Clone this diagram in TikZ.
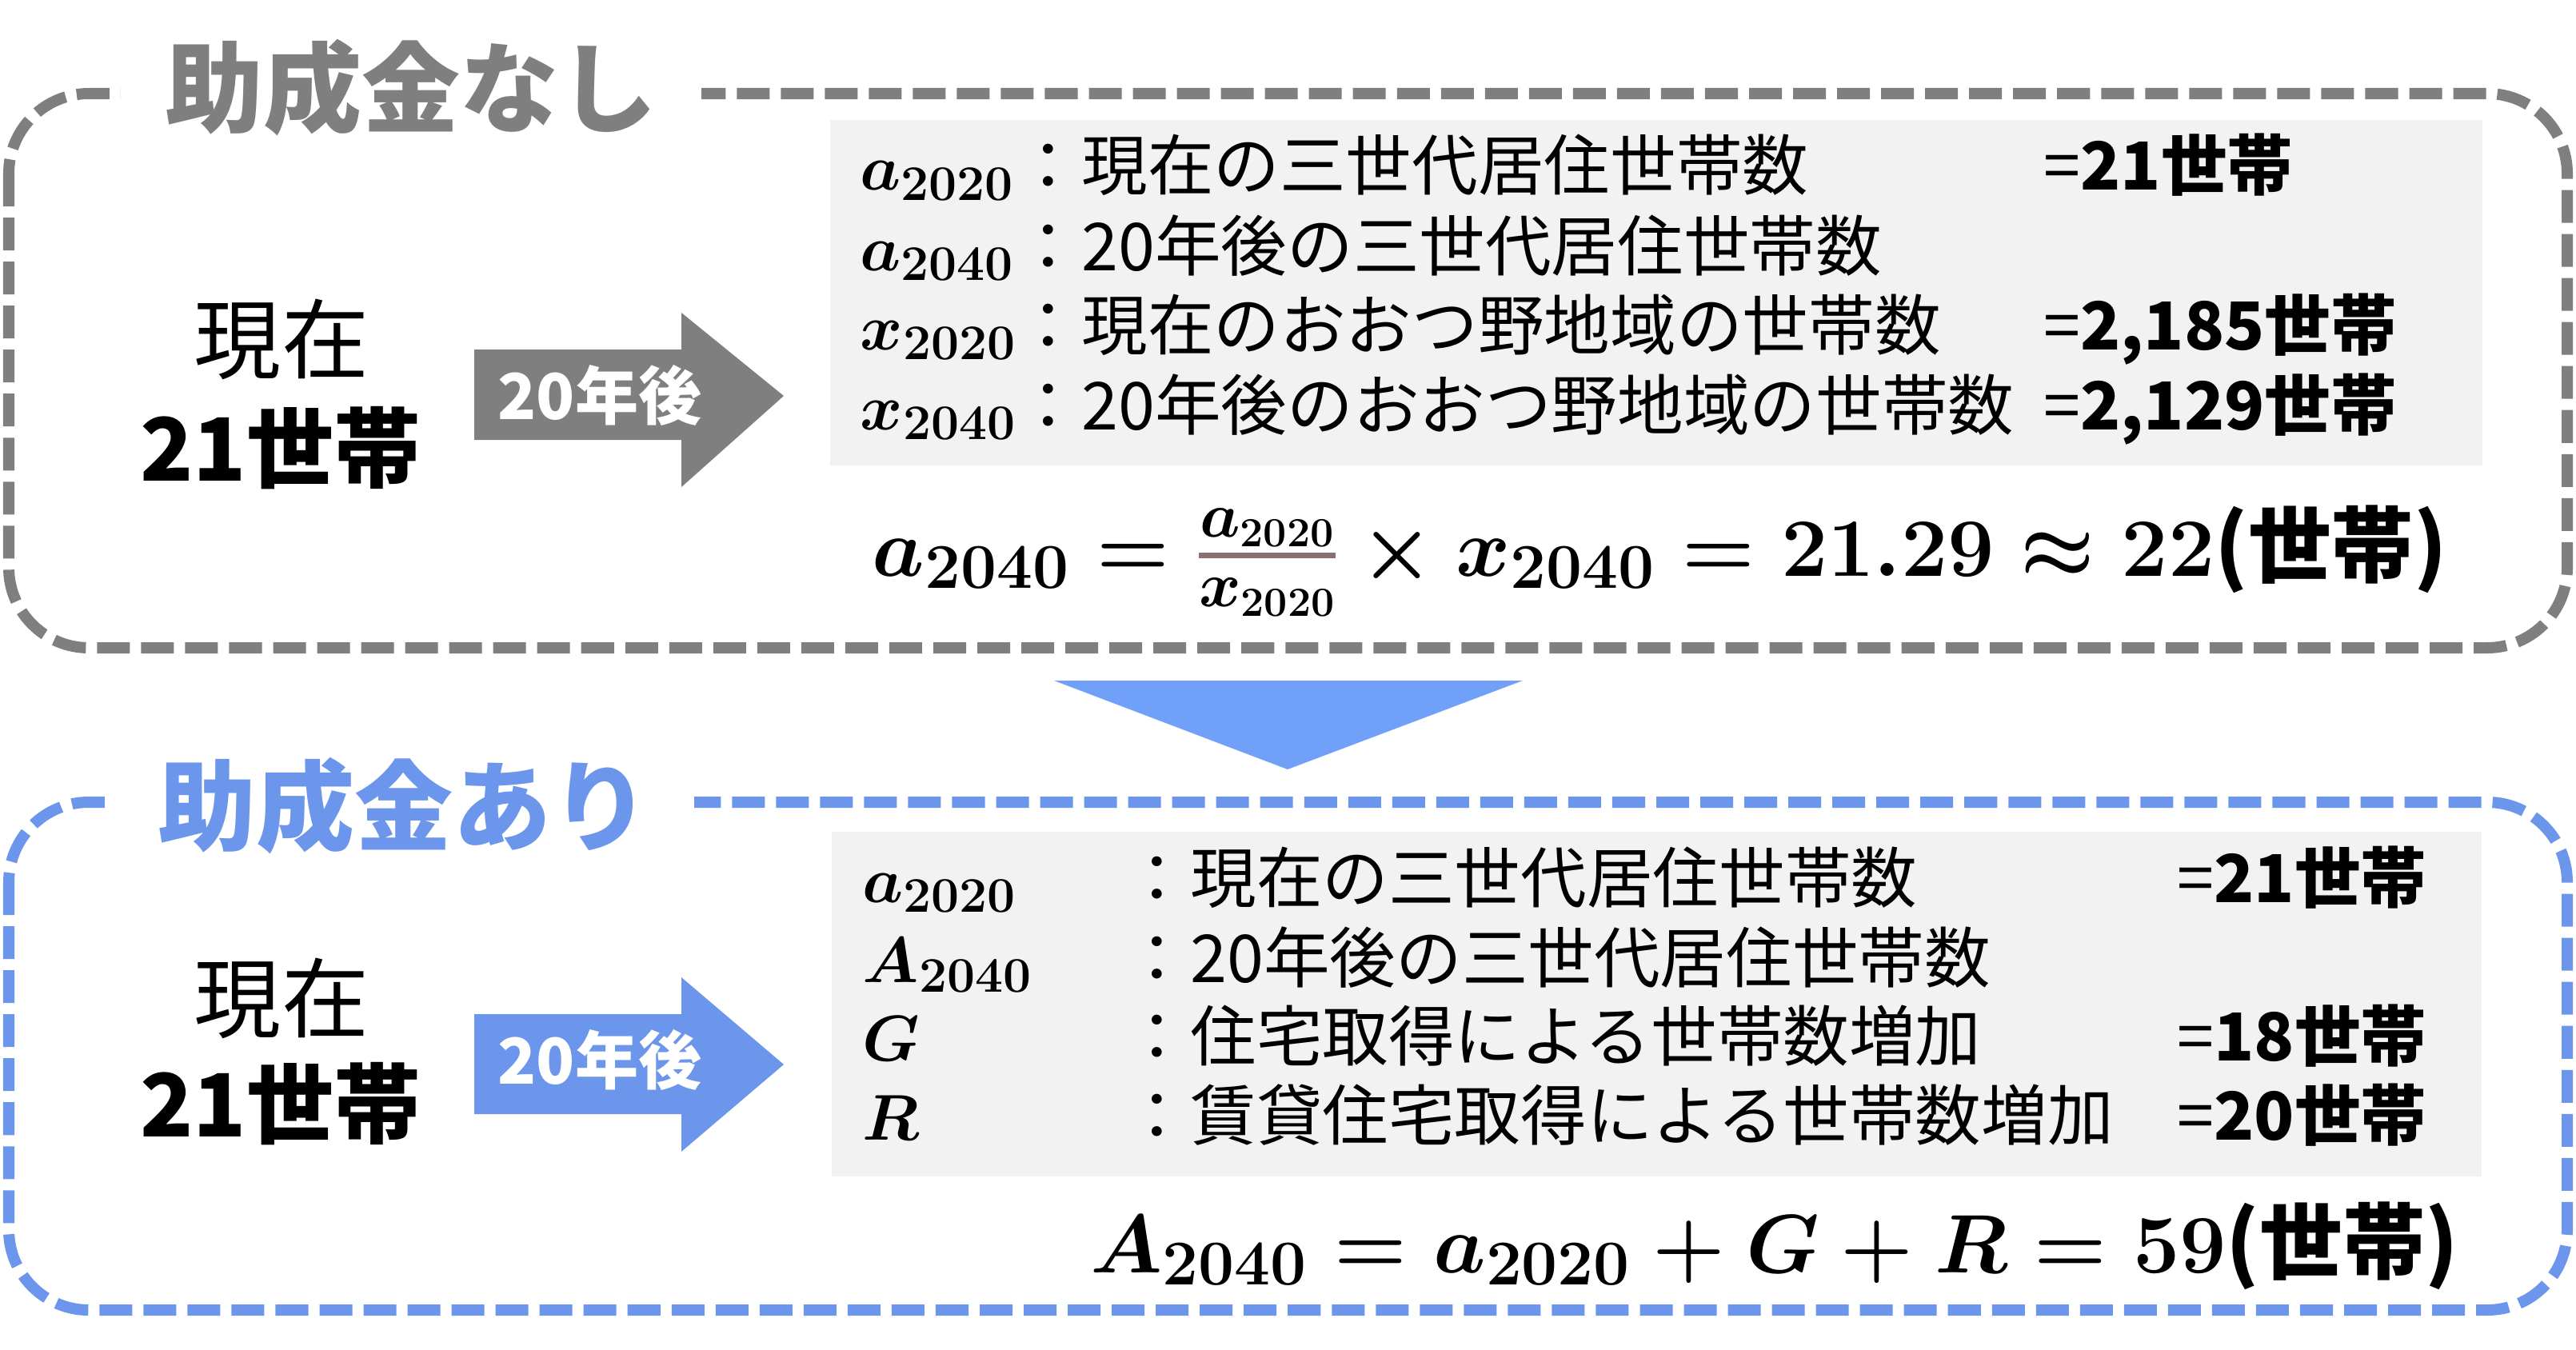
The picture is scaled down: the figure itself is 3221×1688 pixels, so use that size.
\RequirePackage{fix-cm}
\documentclass[tikz,border=0pt]{standalone}
\usepackage{amsmath}
\usepackage{fontspec}
\newfontfamily\jp{Noto Sans CJK JP}
\renewcommand\defaultscriptratio{.77}
\definecolor{lgray}{HTML}{7F7F7F}
\definecolor{lblue}{HTML}{6B96EB}
\definecolor{tblue}{HTML}{70A0F8}
\definecolor{boxgray}{HTML}{F2F2F2}
\definecolor{barcol}{HTML}{8B7070}
\begin{document}
\begin{tikzpicture}[x=0.01cm,y=-0.01cm]
\tikzstyle{every node}=[inner sep=0pt];
\tikzstyle{frame}=[line width=0.14cm, dash pattern=on 0.41cm off 0.14cm, rounded corners=1cm];
\tikzstyle{headline}=[fill=white, inner xsep=0.55cm, inner ysep=0.05cm, font=\jp\bfseries\fontsize{35pt}{42pt}\selectfont];
\tikzstyle{nowtext}=[font=\jp\fontsize{31pt}{37pt}\selectfont];
\tikzstyle{hhtext}=[font=\jp\bfseries\fontsize{31pt}{37pt}\selectfont];
\tikzstyle{latertext}=[text=white, font=\jp\bfseries\fontsize{22.5pt}{27pt}\selectfont];
\tikzstyle{varsym}=[anchor=base west, font=\fontsize{23pt}{28pt}\selectfont\boldmath];
\tikzstyle{desctext}=[anchor=base west, font=\jp\fontsize{23.5pt}{28pt}\selectfont];
\tikzstyle{formula}=[font=\fontsize{29.5pt}{36pt}\selectfont\boldmath];
\useasboundingbox (0,0) rectangle (3221,1688);

% without subsidy
\draw[frame, lgray] (11,117) rectangle (3210,810);
\node[headline, text=lgray] (t1) at (514,110) {助成金なし};
\fill[boxgray] (1038,150) rectangle (3104,582);
\node[nowtext] (n1) at (352,424) {現在};
\node[hhtext] (h1) at (351,560) {21世帯};
\fill[lgray] (593,437) -- (852,437) -- (852,391) -- (980,495) -- (852,609) -- (852,550) -- (593,550) -- cycle;
\node[latertext] (l1) at (750,494) {20年後};

\node[varsym] (a1) at (1075,238) {$a_{2020}$};
\node[varsym] (a2) at (1075,338) {$a_{2040}$};
\node[varsym] (a3) at (1075,437) {$x_{2020}$};
\node[varsym] (a4) at (1075,537) {$x_{2040}$};
\node[desctext] (d1) at (1269,238) {：現在の三世代居住世帯数};
\node[desctext] (d2) at (1269,338) {：20年後の三世代居住世帯数};
\node[desctext] (d3) at (1269,437) {：現在のおおつ野地域の世帯数};
\node[desctext] (d4) at (1269,537) {：20年後のおおつ野地域の世帯数};
\node[desctext] (v1) at (2555,238) {=\textbf{21世帯}};
\node[desctext] (v3) at (2555,437) {=\textbf{2,185世帯}};
\node[desctext] (v4) at (2555,537) {=\textbf{2,129世帯}};

\node[formula, anchor=base west] (f1) at (1090,720) {$a_{2040} = {\color{barcol}\genfrac{}{}{2pt}{1}{\color{black}a_{2020}}{\color{black}x_{2020}}} \times x_{2040} = 21.29 \approx 22$\jp\bfseries(世帯)};

% down arrow
\fill[tblue] (1318,851) -- (1904,851) -- (1610,962) -- cycle;

% with subsidy
\draw[frame, lblue] (11,1003) rectangle (3210,1638);
\node[headline, text=lblue] (t2) at (505,1008) {助成金あり};
\fill[boxgray] (1040,1040) rectangle (3103,1471);
\node[nowtext] (n2) at (352,1248) {現在};
\node[hhtext] (h2) at (351,1380) {21世帯};
\fill[lblue] (593,1268) -- (852,1268) -- (852,1222) -- (980,1331) -- (852,1440) -- (852,1393) -- (593,1393) -- cycle;
\node[latertext] (l2) at (750,1325) {20年後};

\node[varsym] (b1) at (1078,1128) {$a_{2020}$};
\node[varsym] (b2) at (1078,1228) {$A_{2040}$};
\node[varsym] (b3) at (1078,1326) {$G$};
\node[varsym] (b4) at (1078,1425) {$R$};
\node[desctext] (e1) at (1405,1128) {：現在の三世代居住世帯数};
\node[desctext] (e2) at (1405,1228) {：20年後の三世代居住世帯数};
\node[desctext] (e3) at (1405,1326) {：住宅取得による世帯数増加};
\node[desctext] (e4) at (1405,1425) {：賃貸住宅取得による世帯数増加};
\node[desctext] (w1) at (2722,1128) {=\textbf{21世帯}};
\node[desctext] (w3) at (2722,1326) {=\textbf{18世帯}};
\node[desctext] (w4) at (2722,1425) {=\textbf{20世帯}};

\node[formula, anchor=base east] (f2) at (3075,1591) {$A_{2040} = a_{2020} + G + R = 59$\jp\bfseries(世帯)};
\end{tikzpicture}
\end{document}
